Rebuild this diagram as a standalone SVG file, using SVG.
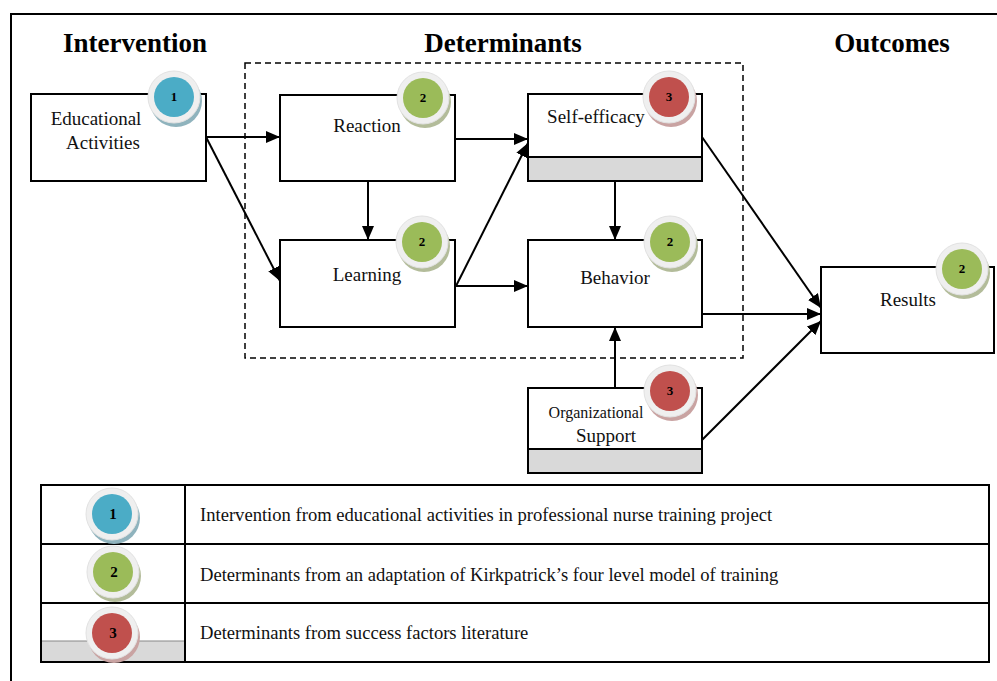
<svg xmlns="http://www.w3.org/2000/svg" width="997" height="681" viewBox="0 0 997 681">
<style>
.box{fill:#fff;stroke:#000;stroke-width:2}
.band{fill:#d9d9d9;stroke:#000;stroke-width:2}
.t{font-family:"Liberation Serif","Times New Roman",serif;font-size:19px;fill:#111;text-anchor:middle}
.h{font-family:"Liberation Serif","Times New Roman",serif;font-size:27px;font-weight:bold;fill:#000;text-anchor:middle}
.lt{font-family:"Liberation Serif","Times New Roman",serif;font-size:18.6px;fill:#111}
.num{font-family:"Liberation Serif","Times New Roman",serif;font-size:13px;font-weight:bold;fill:#000;text-anchor:middle}
.ring{fill:#efefef;stroke:#e2e2e2;stroke-width:1}
.c1{fill:#4bacc6}.s1{fill:#8fb3bd}
.c2{fill:#9bbb59}.s2{fill:#b3bc9a}
.c3{fill:#c0504d}.s3{fill:#c9a3a2}
.conn line,.conn path{stroke:#000;stroke-width:2;fill:none}
</style>
<defs>
<marker id="arr" markerUnits="userSpaceOnUse" markerWidth="16" markerHeight="14" refX="14" refY="6" orient="auto">
<path d="M0,0 L14,6 L0,12 z" fill="#000"/>
</marker>
<g id="b1"><circle cx="2" cy="4" r="26" class="s1"/><circle r="26" class="ring"/><circle r="20" class="c1"/></g>
<g id="b2"><circle cx="2" cy="4" r="26" class="s2"/><circle r="26" class="ring"/><circle r="20" class="c2"/></g>
<g id="b3"><circle cx="2" cy="4" r="26" class="s3"/><circle r="26" class="ring"/><circle r="20" class="c3"/></g>
</defs>
<rect width="997" height="681" fill="#fff"/>
<path d="M11,681 V14 H997" fill="none" stroke="#000" stroke-width="2"/>

<text class="h" x="135" y="52">Intervention</text>
<text class="h" x="503" y="52">Determinants</text>
<text class="h" x="892" y="52">Outcomes</text>

<rect x="245" y="63" width="498" height="295" fill="none" stroke="#000" stroke-width="1.5" stroke-dasharray="6,4"/>

<g class="conn" id="connectors">
<line x1="206" y1="137" x2="280" y2="137" marker-end="url(#arr)"/>
<line x1="206" y1="137" x2="280" y2="281" marker-end="url(#arr)"/>
<line x1="368" y1="181" x2="368" y2="240" marker-end="url(#arr)"/>
<line x1="455" y1="139" x2="528" y2="139" marker-end="url(#arr)"/>
<line x1="456" y1="286" x2="528" y2="143" marker-end="url(#arr)"/>
<line x1="456" y1="286" x2="528" y2="286" marker-end="url(#arr)"/>
<line x1="615" y1="181" x2="615" y2="240" marker-end="url(#arr)"/>
<line x1="702" y1="137" x2="821" y2="308" marker-end="url(#arr)"/>
<line x1="702" y1="314" x2="821" y2="314" marker-end="url(#arr)"/>
<line x1="702" y1="440" x2="821" y2="321" marker-end="url(#arr)"/>
<line x1="615" y1="388" x2="615" y2="327" marker-end="url(#arr)"/>
</g>

<g id="educational">
<rect class="box" x="31" y="94" width="175" height="87"/>
<text class="t" x="96" y="125">Educational</text>
<text class="t" x="103" y="149">Activities</text>
<use href="#b1" x="174" y="97"/>
<text class="num" x="174" y="101">1</text>
</g>

<g id="reaction">
<rect class="box" x="280" y="95" width="175" height="86"/>
<text class="t" x="367" y="132">Reaction</text>
<use href="#b2" x="423" y="98"/>
<text class="num" x="423" y="102">2</text>
</g>

<g id="selfefficacy">
<rect class="box" x="528" y="94" width="174" height="87"/>
<rect class="band" x="528" y="157" width="174" height="24"/>
<text class="t" x="596" y="123">Self-efficacy</text>
<use href="#b3" x="669" y="97"/>
<text class="num" x="669" y="101">3</text>
</g>

<g id="learning">
<rect class="box" x="280" y="240" width="175" height="87"/>
<text class="t" x="367" y="281">Learning</text>
<use href="#b2" x="422" y="242"/>
<text class="num" x="422" y="246">2</text>
</g>

<g id="behavior">
<rect class="box" x="528" y="240" width="174" height="87"/>
<text class="t" x="615" y="284">Behavior</text>
<use href="#b2" x="670" y="242"/>
<text class="num" x="670" y="246">2</text>
</g>

<g id="orgsupport">
<rect class="box" x="528" y="388" width="174" height="85"/>
<rect class="band" x="528" y="449" width="174" height="24"/>
<text class="t" x="596" y="418" style="font-size:16px">Organizational</text>
<text class="t" x="606" y="442">Support</text>
<use href="#b3" x="670" y="391"/>
<text class="num" x="670" y="395">3</text>
</g>

<g id="results">
<rect class="box" x="821" y="267" width="173" height="86"/>
<text class="t" x="908" y="306">Results</text>
<use href="#b2" x="962" y="269"/>
<text class="num" x="962" y="273">2</text>
</g>

<g id="legend">
<rect x="41" y="641" width="144" height="21" fill="#d9d9d9" stroke="#888" stroke-width="1"/>
<rect x="41" y="485" width="948" height="177" fill="none" stroke="#000" stroke-width="2"/>
<line x1="41" y1="544" x2="989" y2="544" stroke="#000" stroke-width="2"/>
<line x1="41" y1="603" x2="989" y2="603" stroke="#000" stroke-width="2"/>
<line x1="185" y1="485" x2="185" y2="662" stroke="#000" stroke-width="2"/>
<use href="#b1" x="112" y="514"/>
<text class="num" x="113" y="519" style="font-size:15px">1</text>
<use href="#b2" x="113" y="572"/>
<text class="num" x="114" y="577" style="font-size:15px">2</text>
<use href="#b3" x="112" y="633"/>
<text class="num" x="113" y="638" style="font-size:15px">3</text>
<text class="lt" x="200" y="521">Intervention from educational activities in professional nurse training project</text>
<text class="lt" x="200" y="581">Determinants from an adaptation of Kirkpatrick’s four level model of training</text>
<text class="lt" x="200" y="639">Determinants from success factors literature</text>
</g>
</svg>
